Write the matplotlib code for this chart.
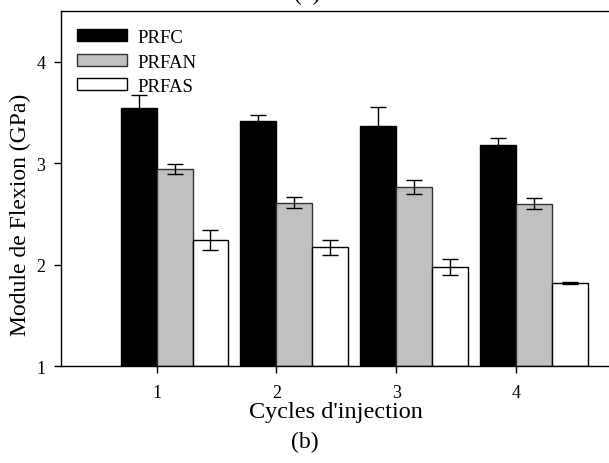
import numpy as np
import matplotlib
matplotlib.use("Agg")
import matplotlib.pyplot as plt

plt.rcParams["font.family"] = ["Liberation Serif", "DejaVu Serif"]

cycles = [1, 2, 3, 4]
series = ["PRFC", "PRFAN", "PRFAS"]

prfc = [3.55, 3.415, 3.365, 3.18]
prfc_err = [0.12, 0.06, 0.19, 0.07]
prfan = [2.94, 2.61, 2.77, 2.60]
prfan_err = [0.05, 0.055, 0.07, 0.055]
prfas = [2.24, 2.17, 1.98, 1.815]
prfas_err = [0.10, 0.07, 0.08, 0.01]

values = [prfc, prfan, prfas]
errors = [prfc_err, prfan_err, prfas_err]
colors = ["black", "#c0c0c0", "white"]
edges = ["black", "#333333", "black"]

fig = plt.figure(figsize=(6.09, 4.64), dpi=100)
ax = fig.add_axes([0.0997, 0.209, 0.905, 0.7645])

w = 0.3
x = np.array(cycles, dtype=float)
for i in range(3):
    # bars start at the tick: black left of tick, grey + white right of it
    pos = x - w + i * w
    ax.bar(pos, np.array(values[i]) - 1, bottom=1, width=w, align="edge",
           color=colors[i], edgecolor=edges[i], linewidth=1, label=series[i])
    ax.errorbar(pos + w / 2, values[i], yerr=errors[i], fmt="none",
                ecolor="black", elinewidth=1, capsize=5.5, capthick=1)

ax.set_xlim(0.2, 4.8)
ax.set_ylim(1, 4.5)
ax.set_xticks(cycles)
ax.set_yticks([1, 2, 3, 4])
ax.tick_params(axis="both", direction="out", length=5, width=1, labelsize=13)
ax.tick_params(axis="x", pad=8)
ax.tick_params(axis="y", pad=6)
ax.spines["right"].set_visible(False)
for s in ["left", "bottom", "top"]:
    ax.spines[s].set_linewidth(1)

ax.set_xlabel("Cycles d'injection", fontsize=17.5, labelpad=0)
ax.set_ylabel("Module de Flexion (GPa)", fontsize=17)
ax.yaxis.set_label_coords(-0.053, 0.43)

ax.legend(loc="upper left", bbox_to_anchor=(77 / 609, 1 - 30 / 464),
          bbox_transform=fig.transFigure, frameon=False, fontsize=13.5,
          borderpad=0, borderaxespad=0, handlelength=2.65, handleheight=0.62,
          handletextpad=0.6, labelspacing=0.4)

fig.text(0.505, 1 + 6 / 464, "(a)", ha="center", va="center", fontsize=17)
fig.text(0.5, 1 - 442 / 464, "(b)", ha="center", va="center", fontsize=17)

fig.savefig("out.png", dpi=100)
